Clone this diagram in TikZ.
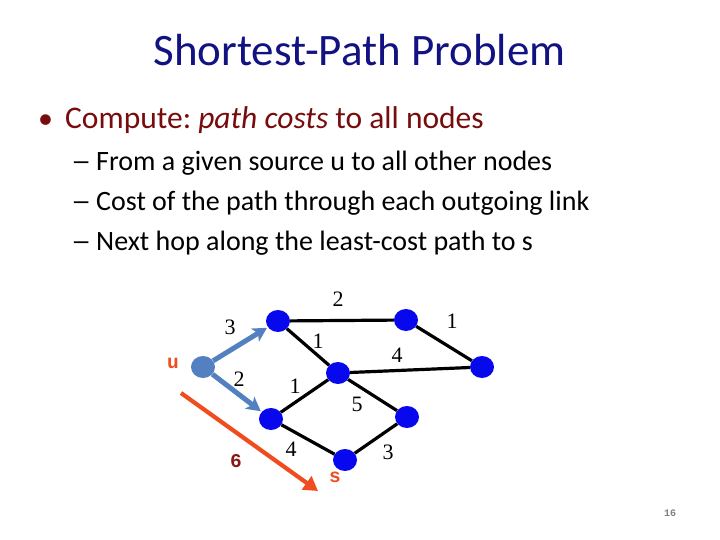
\documentclass[tikz,border=0pt]{standalone}
\usepackage{fontspec}
\setmainfont{Carlito}
\newfontfamily\numfont{Liberation Serif}
\newfontfamily\codefont{Liberation Mono}
\usetikzlibrary{arrows.meta,shapes.geometric}
\definecolor{titleblue}{RGB}{18,18,130}
\definecolor{bulletred}{RGB}{120,12,12}
\definecolor{nodeblue}{RGB}{8,8,238}
\definecolor{ublue}{RGB}{82,128,192}
\definecolor{orangered}{RGB}{240,76,32}
\definecolor{darkred}{RGB}{136,24,24}
\frenchspacing
\begin{document}
\begin{tikzpicture}[x=1pt,y=-1pt,
  vert/.style={ellipse,fill=nodeblue,minimum width=24pt,minimum height=22pt,inner sep=0pt},
  srcvert/.style={vert,fill=ublue},
  link/.style={line width=3.2pt,black},
  uarrow/.style={line width=5pt,ublue,-{Stealth[length=14pt,width=15pt,inset=3.5pt]},shorten >=1pt},
  costarrow/.style={line width=4.2pt,orangered,-{Triangle[length=14pt,width=16pt]}},
  wlabel/.style={font=\numfont\fontsize{22}{24}\selectfont,inner sep=0pt},
  codelabel/.style={font=\codefont\bfseries\fontsize{19.5}{21}\selectfont,inner sep=0pt},
  bodytext/.style={anchor=base west,inner sep=0pt},
  subtext/.style={bodytext,font=\fontsize{28}{30}\selectfont}
]
\useasboundingbox (0,0) rectangle (720,540);
\fill[white] (0,0) rectangle (720,540);

% title and text
\node[inner sep=0pt,anchor=base,text=titleblue,font=\fontsize{45}{48}\selectfont] (title) at (359.5,66) {Shortest-Path Problem};
\node[bodytext,text=bulletred,font=\fontsize{30}{32}\selectfont] (b1dot) at (38,129) {•};
\node[bodytext,text=bulletred,font=\fontsize{31.5}{34}\selectfont] (b1) at (65,129) {Compute: \textit{path costs} to all nodes};
\node[subtext] (d1) at (71,171) {\scalebox{1.45}[1]{–}};
\node[subtext] (s1) at (96,171) {From a given source u to all other nodes};
\node[subtext] (d2) at (71,211) {\scalebox{1.45}[1]{–}};
\node[subtext] (s2) at (96,211) {Cost of the path through each outgoing link};
\node[subtext] (d3) at (71,251) {\scalebox{1.45}[1]{–}};
\node[subtext] (s3) at (96,251) {Next hop along the least-cost path to s};

% graph vertices
\node[srcvert] (u) at (203,367) {};
\node[vert] (A) at (278,321) {};
\node[vert] (B) at (406,320) {};
\node[vert] (C) at (482,367) {};
\node[vert] (D) at (338,373) {};
\node[vert] (E) at (271,419) {};
\node[vert] (F) at (407,417) {};
\node[vert] (S) at (345,460) {};

% links
\draw[link] (A) -- (B);
\draw[link] (B) -- (C);
\draw[link] (A) -- (D);
\draw[link] (D) -- (C);
\draw[link] (E) -- (D);
\draw[link] (D) -- (F);
\draw[link] (E) -- (S);
\draw[link] (S) -- (F);

% arrows from u
\draw[uarrow] (u) -- (A);
\draw[uarrow] (u) -- (E);

% cost arrow
\coordinate (c0) at (181,393);
\coordinate (c1) at (318,491);
\draw[costarrow] (c0) -- (c1);

% weights
\node[wlabel] (w1) at (338,299) {2};
\node[wlabel] (w2) at (230,327) {3};
\node[wlabel] (w3) at (318,341) {1};
\node[wlabel] (w4) at (452,321) {1};
\node[wlabel] (w5) at (397,355) {4};
\node[wlabel] (w6) at (239,379) {2};
\node[wlabel] (w7) at (295,386) {1};
\node[wlabel] (w8) at (357,404) {5};
\node[wlabel] (w9) at (291,449) {4};
\node[wlabel] (w10) at (388,452) {3};

% labels u, s, 6
\node[codelabel,text=orangered] (ulab) at (173,363) {u};
\node[codelabel,text=orangered] (slab) at (335,477) {s};
\node[codelabel,text=darkred] (sixlab) at (236,461.5) {6};

% page number
\node[inner sep=0pt,text=gray,font=\codefont\bfseries\fontsize{10}{12}\selectfont] (pg) at (670,513) {16};
\end{tikzpicture}
\end{document}
